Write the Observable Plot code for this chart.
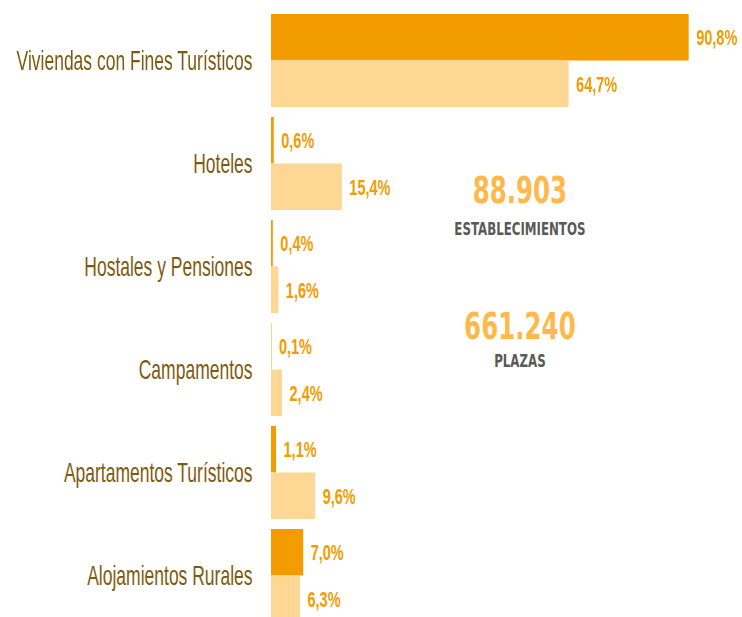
<!DOCTYPE html>
<html>
<head>
<meta charset="utf-8">
<script src="https://cdn.jsdelivr.net/npm/d3@7"></script>
<script src="https://cdn.jsdelivr.net/npm/@observablehq/plot@0.6"></script>
<style>
  html, body { margin: 0; padding: 0; background: #fff; }
  #outer { width: 742px; height: 617px; overflow: hidden; position: relative; }
  #wrap { position: absolute; left: 0; top: 0; width: 742px; transform-origin: 0 0; }
</style>
</head>
<body>
<div id="outer"><div id="wrap"></div></div>
<script>
const categories = [
  "Viviendas con Fines Turísticos",
  "Hoteles",
  "Hostales y Pensiones",
  "Campamentos",
  "Apartamentos Turísticos",
  "Alojamientos Rurales"
];
const seriesNames = ["Establecimientos", "Plazas"];
const establecimientos = [90.8, 0.6, 0.4, 0.1, 1.1, 7.0];
const plazas = [64.7, 15.4, 1.6, 2.4, 9.6, 6.3];
const totalEstablecimientos = "88.903";
const totalPlazas = "661.240";

const rows = [];
categories.forEach((c, i) => {
  rows.push({category: c, series: seriesNames[0], value: establecimientos[i]});
  rows.push({category: c, series: seriesNames[1], value: plazas[i]});
});
const fmt = v => v.toFixed(1).replace(".", ",") + "%";

// vertical stretch of the whole drawing (the reference's text is tall and condensed)
const S = 1.53;
const sans = "'Liberation Sans', Arial, sans-serif";
const wide = "'DejaVu Sans', Verdana, sans-serif";

const annotations = [
  {fy: categories[1], text: totalEstablecimientos, size: 24.5, fill: "#FFB94A", dy: -8 / S},
  {fy: categories[1], text: "ESTABLECIMIENTOS", size: 11.8, fill: "#595959", dy: 24 / S},
  {fy: categories[2], text: totalPlazas, size: 24.5, fill: "#FFB94A", dy: 25 / S},
  {fy: categories[2], text: "PLAZAS", size: 11.8, fill: "#595959", dy: 53 / S}
];

const chart = Plot.plot({
  width: 742,
  height: 622 / S,
  marginLeft: 271,
  marginRight: 11,
  marginTop: 14 / S,
  marginBottom: 0,
  style: {fontFamily: sans, fontSize: "17.5px", color: "#7F5A0E", background: "#fff", overflow: "visible"},
  x: {domain: [0, 100], axis: null},
  y: {domain: seriesNames, padding: 0, round: false, axis: null},
  fy: {domain: categories, paddingInner: 0.097, paddingOuter: 0, round: false, label: null, tickSize: 0, tickPadding: 19},
  color: {domain: seriesNames, range: ["#F39C00", "#FFD794"]},
  marks: [
    Plot.barX(rows, {fy: "category", y: "series", x: "value", fill: "series", insetTop: 0, insetBottom: 0}),
    Plot.text(rows, {
      fy: "category", y: "series", x: "value", text: d => fmt(d.value),
      textAnchor: "start", dx: 7, fill: "#F39C00", fontWeight: "bold", fontSize: 14.5,
      fontFamily: sans
    }),
    ...annotations.map(a => Plot.text([a], {
      fy: "fy", x: () => 54, text: "text", frameAnchor: "bottom", lineAnchor: "bottom",
      dy: a.dy, fill: a.fill, fontSize: a.size, fontWeight: "bold", fontFamily: wide, textAnchor: "middle"
    }))
  ]
});
const wrap = document.getElementById("wrap");
wrap.style.transform = `scaleY(${S})`;
wrap.appendChild(chart);
</script>
</body>
</html>
